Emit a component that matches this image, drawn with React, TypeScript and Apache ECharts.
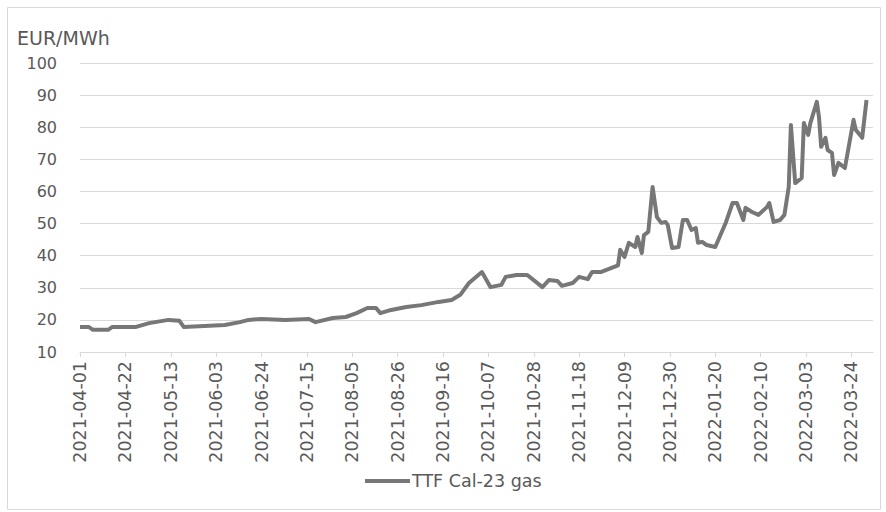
import React, { useEffect, useRef } from "react";
import * as echarts from "echarts";

// TTF Cal-23 gas forward price, EUR/MWh
const dates: string[] = [
  "2021-04-01", "2021-04-05", "2021-04-07", "2021-04-14", "2021-04-16", "2021-04-27", "2021-05-03", "2021-05-12", "2021-05-17", "2021-05-19",
  "2021-06-07", "2021-06-14", "2021-06-18", "2021-06-24", "2021-07-05", "2021-07-16", "2021-07-19", "2021-07-27", "2021-08-02", "2021-08-07",
  "2021-08-12", "2021-08-16", "2021-08-18", "2021-08-23", "2021-08-30", "2021-09-06", "2021-09-14", "2021-09-20", "2021-09-24", "2021-09-28",
  "2021-10-04", "2021-10-08", "2021-10-13", "2021-10-15", "2021-10-20", "2021-10-25", "2021-11-01", "2021-11-04", "2021-11-08", "2021-11-10",
  "2021-11-15", "2021-11-18", "2021-11-22", "2021-11-24", "2021-11-28", "2021-12-03", "2021-12-06", "2021-12-07", "2021-12-09", "2021-12-11",
  "2021-12-14", "2021-12-15", "2021-12-17", "2021-12-18", "2021-12-20", "2021-12-22", "2021-12-24", "2021-12-26", "2021-12-28", "2021-12-29",
  "2021-12-31", "2022-01-03", "2022-01-05", "2022-01-07", "2022-01-09", "2022-01-11", "2022-01-12", "2022-01-14", "2022-01-16", "2022-01-20",
  "2022-01-22", "2022-01-25", "2022-01-28", "2022-01-30", "2022-02-02", "2022-02-03", "2022-02-06", "2022-02-09", "2022-02-13", "2022-02-14",
  "2022-02-16", "2022-02-19", "2022-02-21", "2022-02-23", "2022-02-24", "2022-02-26", "2022-03-01", "2022-03-02", "2022-03-04", "2022-03-05",
  "2022-03-08", "2022-03-09", "2022-03-10", "2022-03-12", "2022-03-13", "2022-03-15", "2022-03-16", "2022-03-18", "2022-03-21", "2022-03-25",
  "2022-03-26", "2022-03-29", "2022-03-31",
];

const prices: number[] = [
  17.8, 17.8, 16.9, 16.9, 17.8, 17.8, 19.0, 20.0, 19.7, 17.8,
  18.4, 19.3, 20.0, 20.3, 20.0, 20.3, 19.3, 20.6, 20.9, 22.1,
  23.7, 23.7, 22.1, 23.1, 24.0, 24.6, 25.6, 26.2, 27.8, 31.5,
  34.9, 30.2, 30.9, 33.4, 34.0, 34.0, 30.2, 32.4, 32.1, 30.6,
  31.5, 33.4, 32.7, 34.9, 34.9, 36.2, 37.0, 41.8, 39.6, 44.0,
  42.7, 45.8, 40.8, 46.4, 47.4, 61.4, 52.0, 50.2, 50.5, 49.6,
  42.4, 42.7, 51.1, 51.1, 48.0, 48.6, 44.0, 44.3, 43.3, 42.7,
  45.8, 50.5, 56.4, 56.4, 51.1, 54.9, 53.6, 52.7, 55.2, 56.4,
  50.5, 51.1, 52.7, 61.4, 80.7, 62.6, 64.2, 81.3, 77.6, 81.3,
  87.9, 83.2, 73.9, 76.7, 72.9, 72.0, 65.1, 68.9, 67.3, 82.3,
  79.2, 76.7, 88.5,
];

// Date labels along the horizontal axis (every three weeks)
const xTickLabels: string[] = [
  "2021-04-01", "2021-04-22", "2021-05-13", "2021-06-03", "2021-06-24", "2021-07-15",
  "2021-08-05", "2021-08-26", "2021-09-16", "2021-10-07", "2021-10-28", "2021-11-18",
  "2021-12-09", "2021-12-30", "2022-01-20", "2022-02-10", "2022-03-03", "2022-03-24",
];

const seriesName = "TTF Cal-23 gas";
const unitLabel = "EUR/MWh";

const DAY_MS = 86400000;
const toUtc = (s: string) => {
  const [y, m, d] = s.split("-").map(Number);
  return Date.UTC(y, m - 1, d);
};
const originMs = toUtc(xTickLabels[0]);
const dayOffset = (s: string) => Math.round((toUtc(s) - originMs) / DAY_MS);

const tickOffsets = xTickLabels.map(dayOffset);
const labelByOffset = new Map<number, string>(tickOffsets.map((o, i) => [o, xTickLabels[i]]));

const FONT = "'DejaVu Sans', sans-serif";
const TEXT_COLOR = "#595959";
const GRID_COLOR = "#d9d9d9";
const LINE_COLOR = "#777777";

export default function App() {
  const ref = useRef<HTMLDivElement>(null);

  useEffect(() => {
    if (!ref.current) return;
    const chart = echarts.init(ref.current, undefined, { renderer: "svg" });

    chart.setOption({
      animation: false,
      backgroundColor: "#ffffff",
      textStyle: { fontFamily: FONT },
      grid: {
        left: 80,
        right: 13,
        top: 63,
        bottom: 160,
        containLabel: false,
        outerBoundsMode: "none",
      },
      graphic: [
        {
          type: "rect",
          silent: true,
          shape: { x: 7.5, y: 7.5, width: 873, height: 502 },
          style: { fill: "none", stroke: GRID_COLOR, lineWidth: 1 },
        },
        {
          type: "text",
          left: 17,
          top: 28,
          silent: true,
          style: { text: unitLabel, font: `19px ${FONT}`, fill: TEXT_COLOR },
        },
      ],
      legend: {
        show: true,
        left: 365,
        top: 472,
        itemWidth: 45,
        itemHeight: 4,
        itemGap: 10,
        icon: "rect",
        padding: 0,
        textStyle: { fontFamily: FONT, fontSize: 17.5, color: TEXT_COLOR, padding: [0, 0, 0, -3] },
        data: [seriesName],
      },
      xAxis: {
        type: "value",
        min: 0,
        max: 367,
        interval: 21,
        splitLine: { show: false },
        axisLine: { show: true, lineStyle: { color: GRID_COLOR, width: 1 } },
        axisTick: {
          show: true,
          length: 5,
          inside: false,
          customValues: tickOffsets,
          lineStyle: { color: GRID_COLOR, width: 1 },
        },
        axisLabel: {
          show: true,
          rotate: 90,
          margin: 9,
          customValues: tickOffsets,
          fontFamily: FONT,
          fontSize: 17.5,
          color: TEXT_COLOR,
          formatter: (v: number) => labelByOffset.get(Math.round(v)) ?? "",
        },
      },
      yAxis: {
        type: "value",
        min: 10,
        max: 100,
        interval: 10,
        axisLine: { show: false },
        axisTick: { show: false },
        splitLine: { show: true, lineStyle: { color: GRID_COLOR, width: 1 } },
        axisLabel: {
          margin: 23,
          fontFamily: FONT,
          fontSize: 16,
          color: TEXT_COLOR,
        },
      },
      series: [
        {
          name: seriesName,
          type: "line",
          data: dates.map((d, i) => [dayOffset(d), prices[i]]),
          showSymbol: false,
          symbol: "none",
          color: LINE_COLOR,
          lineStyle: { color: LINE_COLOR, width: 4, join: "round" },
          z: 3,
        },
      ],
    });

    return () => chart.dispose();
  }, []);

  return (
    <div
      ref={ref}
      style={{ position: "fixed", left: 0, top: 0, width: 886, height: 512 }}
    />
  );
}
